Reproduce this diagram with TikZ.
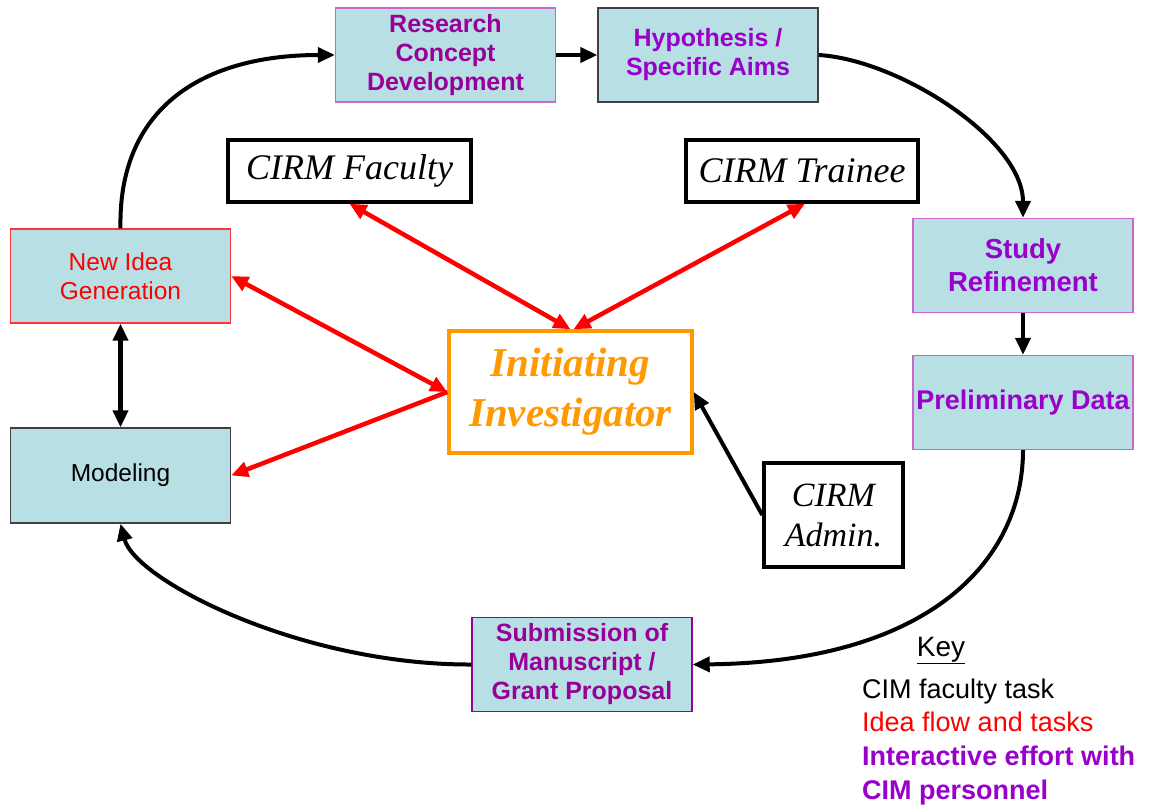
\documentclass[tikz,border=0pt]{standalone}
\usepackage{fontspec}
\setmainfont{Liberation Sans}
\newfontfamily\tms{Liberation Serif}
\usetikzlibrary{arrows.meta}
\definecolor{boxfill}{HTML}{B8E0E4}
\definecolor{magp}{HTML}{990099}
\definecolor{viop}{HTML}{9900CC}
\definecolor{pborder}{HTML}{CC66CC}
\definecolor{gborder}{HTML}{404040}
\definecolor{rborder}{HTML}{FF3333}
\definecolor{orng}{HTML}{FF9900}
\definecolor{redline}{HTML}{FF0000}
\tikzset{
  task/.style={draw, line width=1.4pt, fill=boxfill, minimum width=220pt, minimum height=94pt, inner sep=0pt, align=center, font=\fontsize{24.5}{29}\selectfont},
  person/.style={draw=black, line width=3.4pt, fill=white, inner sep=0pt, align=center, font=\tms\itshape\fontsize{36}{40}\selectfont},
  tip/.tip={Triangle[length=17pt,width=15pt]},
  flow/.style={line width=4pt, -tip},
  redflow/.style={draw=redline, line width=4.5pt, tip-tip},
  keyline/.style={anchor=base west, inner sep=0pt, font=\fontsize{27}{33}\selectfont}
}
\begin{document}
\begin{tikzpicture}[x=1pt, y=-1pt]
\useasboundingbox (0,0) rectangle (1158,809);
\fill[white] (0,0) rectangle (1158,809);

% task boxes
\node[task, draw=pborder, text=magp, font=\bfseries\fontsize{25}{29}\selectfont] (res) at (445.5,55) {Research\\Concept\\Development};
\node[task, draw=gborder, text=viop, font=\bfseries\fontsize{25}{29}\selectfont] (hyp) at (708,55) {Hypothesis /\\Specific Aims};
\node[task, draw=rborder, text=red] (idea) at (120.5,276) {New Idea\\Generation};
\node[task, draw=gborder, text=black, minimum height=95pt] (mod) at (120.5,475.5) {Modeling};
\node[task, draw=pborder, text=viop, font=\bfseries\fontsize{27.5}{33}\selectfont] (stu) at (1023,265.5) {Study\\Refinement};
\node[task, draw=pborder, text=viop, font=\bfseries\fontsize{27}{30}\selectfont] (pre) at (1023,402.5) {Preliminary Data};
\node[task, draw=magp, text=magp, font=\bfseries\fontsize{25}{29}\selectfont] (sub) at (582,664.5) {Submission of\\Manuscript /\\Grant Proposal};

% people boxes
\node[person, minimum width=243pt, minimum height=62pt] (fac) at (349.5,171) {CIRM Faculty};
\node[person, minimum width=232pt, minimum height=62pt] (tra) at (802,171) {CIRM Trainee};
\node[person, minimum width=139pt, minimum height=104pt, font=\tms\itshape\fontsize{34}{40}\selectfont] (adm) at (833.5,515) {CIRM\\Admin.};
\node[draw=orng, line width=3.5pt, fill=white, minimum width=243pt, minimum height=122pt, inner sep=0pt, align=center, text=orng, font=\tms\bfseries\itshape\fontsize{41}{50}\selectfont] (inv) at (570.5,392) {Initiating\\Investigator};

% cycle connectors
\draw[flow] (idea.north) .. controls (118,110) and (200,55) .. (res.west);
\draw[flow] (res.east) -- (hyp.west);
\draw[flow] (hyp.east) .. controls (900,60) and (1023,140) .. (stu.north);
\draw[flow] (stu.south) -- (pre.north);
\draw[flow] (pre.south) .. controls (1023,560) and (930,662) .. (sub.east);
\draw[flow] (sub.west) .. controls (300,665) and (135,580) .. (mod.south);
\draw[line width=4.5pt, tip-tip] (idea.south) -- (mod.north);

% red idea flow
\draw[redflow] (fac.south) -- (inv.north);
\draw[redflow] ([xshift=3pt]tra.south) -- ([xshift=3pt]inv.north);
\draw[redflow] (idea.east) -- (inv.west);
\draw[draw=redline, line width=4.5pt, -tip] (inv.west) -- (mod.east);

% admin
\draw[flow] (adm.west) -- (inv.east);

% key
\node[inner sep=0pt, anchor=base, font=\fontsize{28}{33}\selectfont] (key) at (941,656) {\underline{Key}};
\node[keyline, text=black] (k1) at (862,698) {CIM faculty task};
\node[keyline, text=red] (k2) at (862,731) {Idea flow and tasks};
\node[keyline, text=viop, font=\bfseries\fontsize{27}{33}\selectfont] (k3) at (862,765) {Interactive effort with};
\node[keyline, text=viop, font=\bfseries\fontsize{27}{33}\selectfont] (k4) at (862,799) {CIM personnel};
\end{tikzpicture}
\end{document}
